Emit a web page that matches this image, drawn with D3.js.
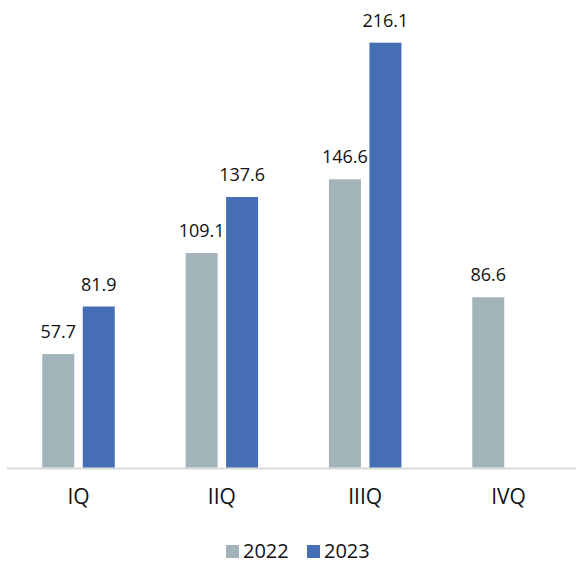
<!DOCTYPE html>
<html>
<head>
<meta charset="utf-8">
<script src="https://cdn.jsdelivr.net/npm/d3@7"></script>
<style>
  body { margin: 0; background: #fff; }
  text { font-family: "Open Sans", "Noto Sans", sans-serif; fill: #111; }
</style>
</head>
<body>
<div id="chart"></div>
<script>
const quarters = ["IQ", "IIQ", "IIIQ", "IVQ"];
const years = ["2022", "2023"];
const values2022 = [57.7, 109.1, 146.6, 86.6];
const values2023 = [81.9, 137.6, 216.1, null];
const colours = ["#A2B4BA", "#466EB4"];

const width = 576;
const height = 562;
const baseline = 467.5;

const svg = d3.select("#chart").append("svg")
    .attr("width", width)
    .attr("height", height);

// table built from the arrays
const data = quarters.map((q, i) => ({
    quarter: q,
    values: [
        {year: years[0], value: values2022[i]},
        {year: years[1], value: values2023[i]}
    ].filter(d => d.value !== null)
}));

let x = d3.scaleBand().domain(quarters).range([6.85, 580.2]).padding(0);
let groupWidth = 72.5;
let xInner = d3.scaleBand().domain(years).range([0, groupWidth]).paddingInner(0.21);
let y = d3.scaleLinear().domain([0, 216.1]).range([baseline, 42.7]);
let colour = d3.scaleOrdinal().domain(years).range(colours);

const offset = (x.bandwidth() - groupWidth) / 2;

// axis line
svg.append("line")
    .attr("x1", 7).attr("x2", 576)
    .attr("y1", baseline + 1).attr("y2", baseline + 1)
    .attr("stroke", "#d9d9d9")
    .attr("stroke-width", 2);

const groups = svg.selectAll("g.group").data(data)
    .enter().append("g")
    .attr("class", "group")
    .attr("transform", d => `translate(${x(d.quarter) + offset}, 0)`);

groups.selectAll("rect").data(d => d.values)
    .enter().append("rect")
    .attr("x", d => xInner(d.year))
    .attr("width", xInner.bandwidth())
    .attr("y", d => y(d.value))
    .attr("height", d => baseline - y(d.value))
    .attr("fill", d => colour(d.year));

groups.selectAll("text.value").data(d => d.values)
    .enter().append("text")
    .attr("class", "value")
    .attr("x", d => xInner(d.year) + xInner.bandwidth() / 2)
    .attr("y", d => y(d.value) - 16)
    .attr("text-anchor", "middle")
    .style("font-size", "18px")
    .text(d => d.value.toFixed(1));

// category labels
svg.selectAll("text.cat").data(quarters)
    .enter().append("text")
    .attr("class", "cat")
    .attr("x", d => x(d) + x.bandwidth() / 2)
    .attr("y", 504)
    .attr("text-anchor", "middle")
    .style("font-size", "21px")
    .text(d => d);

// legend
const legendX = [226, 307];
const legend = svg.selectAll("g.legend").data(years)
    .enter().append("g")
    .attr("class", "legend")
    .attr("transform", (d, i) => `translate(${legendX[i]}, 545)`);
legend.append("rect")
    .attr("width", 13).attr("height", 13)
    .attr("fill", d => colour(d));
legend.append("text")
    .attr("x", 17)
    .attr("y", 12.5)
    .style("font-size", "20px")
    .text(d => d);
</script>
</body>
</html>
